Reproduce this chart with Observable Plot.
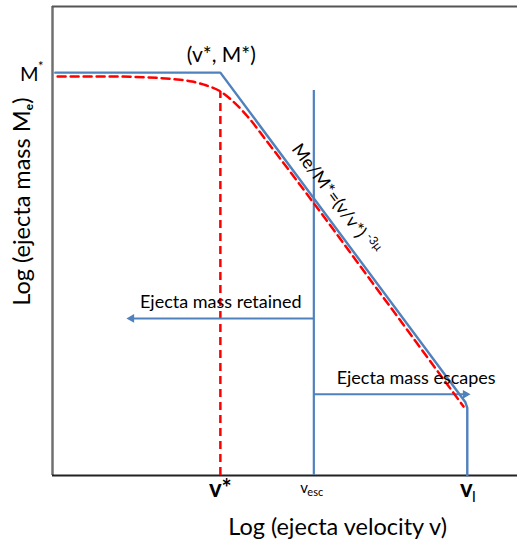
<!DOCTYPE html>
<html><head><meta charset="utf-8">
<script src="https://cdn.jsdelivr.net/npm/d3@7"></script>
<script src="https://cdn.jsdelivr.net/npm/@observablehq/plot@0.6"></script>
<style>body{margin:0;background:#fff}</style>
</head><body><div id="chart"></div>
<script>
// Schematic units: log-velocity and log-mass both on an arbitrary 0–100 scale
const tickNames = ["v*", "v_esc", "v_l"];
const tickV = [36.1, 56.2, 89.2];
const mStar = 85.9;

// Idealized broken power law (blue)
const blueV = [0.6, 36.1, 88.8, 89.2, 89.2];
const blueM = [85.9, 85.9, 15.6, 14.4, 0];

// Realistic smooth curve (red dashed)
const redV = [1.1, 10, 20, 26, 30, 33, 36.1, 39, 42, 46, 52, 70, 88.4];
const redM = [85.1, 85.1, 84.9, 84.5, 84.0, 83.2, 81.9, 79.6, 76.5, 71.4, 63.6, 39.5, 14.7];

// Verticals
const vEscTop = 82.1;
const vStarTop = 81.9;

// Arrows: [from v, to v, at M]
const retainedArrow = [56.2, 15.9, 33.5];
const escapeArrow = [56.4, 89.9, 17.3];

const blue = "#4f81bd";
const red = "#ff0000";

const blueLine = blueV.map((v, i) => ({v, m: blueM[i]}));
const redLine = redV.map((v, i) => ({v, m: redM[i]}));

const font = "Lato, 'Open Sans', sans-serif";

const txt = (s, o) => Plot.text([s], Object.assign({text: d => d, fill: "black", fontFamily: font}, o));

const chart = Plot.plot({
  width: 517,
  height: 543,
  marginLeft: 52,
  marginRight: 0,
  marginTop: 6,
  marginBottom: 68,
  x: {domain: [0, 100], axis: null},
  y: {domain: [0, 100], axis: null},
  style: {fontFamily: font, background: "white", overflow: "visible"},
  marks: [
    // frame (left, top, bottom)
    Plot.ruleX([0], {y1: 0, y2: 100, stroke: "#707070", strokeWidth: 2.5}),
    Plot.ruleY([100], {x1: 0, x2: 100, stroke: "#555", strokeWidth: 2}),
    Plot.ruleY([0], {x1: 0, x2: 100, stroke: "#222", strokeWidth: 2}),

    // verticals
    Plot.ruleX([tickV[1]], {y1: 0, y2: vEscTop, stroke: blue, strokeWidth: 2.2}),
    Plot.ruleX([tickV[0]], {y1: 0, y2: vStarTop, stroke: red, strokeWidth: 2.5, strokeDasharray: "8,5"}),

    // arrows
    Plot.ruleY([retainedArrow[2]], {x1: retainedArrow[0], x2: retainedArrow[1] + 1, stroke: blue, strokeWidth: 2}),
    Plot.dot([retainedArrow], {x: d => d[1] + 1.1, y: d => d[2], symbol: "triangle", r: 3.3, rotate: -90, fill: blue, stroke: "none"}),
    Plot.ruleY([escapeArrow[2]], {x1: escapeArrow[0], x2: escapeArrow[1] - 1, stroke: blue, strokeWidth: 2}),
    Plot.dot([escapeArrow], {x: d => d[1] - 1.1, y: d => d[2], symbol: "triangle", r: 3.3, rotate: 90, fill: blue, stroke: "none"}),

    // curves
    Plot.line(blueLine, {x: "v", y: "m", stroke: blue, strokeWidth: 2.4}),
    Plot.line(redLine, {x: "v", y: "m", stroke: red, strokeWidth: 2.5, strokeDasharray: "8,5", curve: "monotone-x"}),

    // annotations
    txt("(v*, M*)", {x: 36.3, y: 89.6, fontSize: 21}),
    txt("M", {x: -3.0, y: 85.4, fontSize: 20, textAnchor: "end"}),
    txt("*", {x: -3.1, y: 87.1, fontSize: 13, textAnchor: "start"}),
    txt("Me/M*=(v/v*)", {x: 52.3, y: 70.3, fontSize: 18, textAnchor: "start", rotate: 53.4}),
    txt("-3μ", {x: 68.0, y: 51.4, fontSize: 12, textAnchor: "start", rotate: 53.4}),
    txt("Ejecta mass retained", {x: 36.2, y: 36.9, fontSize: 18}),
    txt("Ejecta mass escapes", {x: 78.2, y: 20.7, fontSize: 18}),

    // tick labels
    txt("v*", {x: tickV[0], y: -3.0, fontSize: 24, fontWeight: "bold"}),
    txt("v", {x: tickV[1] - 2.1, y: -2.6, fontSize: 15}),
    txt("esc", {x: tickV[1] - 1.4, y: -3.6, fontSize: 11, textAnchor: "start"}),
    txt("v", {x: tickV[2] - 0.2, y: -3.0, fontSize: 24, fontWeight: "bold"}),
    txt("l", {x: tickV[2] + 1.4, y: -4.5, fontSize: 16}),

    // axis titles
    txt("Log (ejecta velocity v)", {x: 61.3, y: -11.1, fontSize: 23.5}),
    txt("Log (ejecta mass Mₑ)", {x: -6.45, y: 58.4, fontSize: 23.5, rotate: -90})
  ]
});
document.getElementById("chart").appendChild(chart);
</script>
</body></html>
